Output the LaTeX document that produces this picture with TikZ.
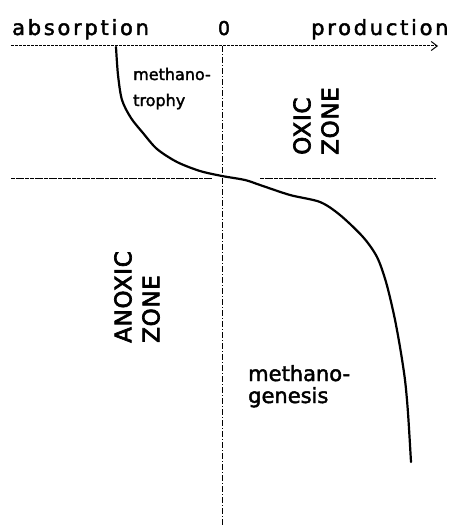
\documentclass[tikz,border=0pt]{standalone}
\usepackage{fontspec}
\setmainfont[FakeBold=2]{DejaVu Sans}
\newfontfamily\axisfont[LetterSpace=13, FakeBold=2]{DejaVu Sans}
\newfontfamily\zonefont[LetterSpace=3, FakeBold=3]{DejaVu Sans}
\usetikzlibrary{arrows.meta}

\begin{document}
\begin{tikzpicture}[
  x=1pt, y=-1pt,
  axislabel/.style={inner sep=0pt, font=\axisfont\fontsize{21}{21}\selectfont},
  zerolabel/.style={inner sep=0pt, font=\fontsize{19}{19}\selectfont},
  zonelabel/.style={inner sep=0pt, rotate=90, align=left, font=\zonefont\fontsize{23}{28}\selectfont},
  smalllabel/.style={inner sep=0pt, align=left, font=\fontsize{16}{26}\selectfont},
  biglabel/.style={inner sep=0pt, align=left, font=\fontsize{21}{22}\selectfont},
  axisline/.style={line width=1pt, dash pattern=on 3pt off 1pt, -{Straight Barb[length=6pt, width=9pt]}},
  zeroline/.style={line width=0.9pt, dash pattern=on 6pt off 2pt on 1pt off 2pt},
  zoneline/.style={line width=1pt, dash pattern=on 4pt off 0.7pt},
  profile/.style={line width=2.2pt, line cap=round, line join=round}
]
\useasboundingbox (0,0) rectangle (454,527);

\coordinate (axisstart) at (11,46);
\coordinate (axisend)   at (438,46);
\coordinate (zerotop)   at (222,46);
\coordinate (zerobot)   at (222,527);
\coordinate (zoneL1)    at (11,178);
\coordinate (zoneL2)    at (212,178);
\coordinate (zoneR1)    at (260,178);
\coordinate (zoneR2)    at (436,178);

\node[axislabel, anchor=base west] (absorption) at (12,35)  {absorption};
\node[zerolabel, anchor=base]      (zero)       at (224,35) {0};
\node[axislabel, anchor=base west] (production) at (311,35) {production};

\node[smalllabel, anchor=base west] (methanotrophy)  at (133,106) {methano-\\trophy};
\node[biglabel, anchor=base west]   (methanogenesis) at (248,403) {methano-\\genesis};

\node[zonelabel] (oxic)   at (316,121) {OXIC\\ZONE};
\node[zonelabel] (anoxic) at (137,297) {ANOXIC\\ZONE};

\draw[axisline] (axisstart) -- (axisend);
\draw[zeroline] (zerotop) -- (zerobot);
\draw[zoneline] (zoneL1) -- (zoneL2);
\draw[zoneline] (zoneR1) -- (zoneR2);

\draw[profile] plot[smooth, tension=0.5] coordinates {
  (116,47) (118,75) (122,100) (131,118) (143,133) (157,149) (177,162)
  (200,171) (222,176) (245,180) (260,185) (290,195) (320,202) (340,215)
  (363,237) (377,257) (386,282) (394,315) (400,347) (405,380) (408,413) (411,462)};

\end{tikzpicture}
\end{document}
